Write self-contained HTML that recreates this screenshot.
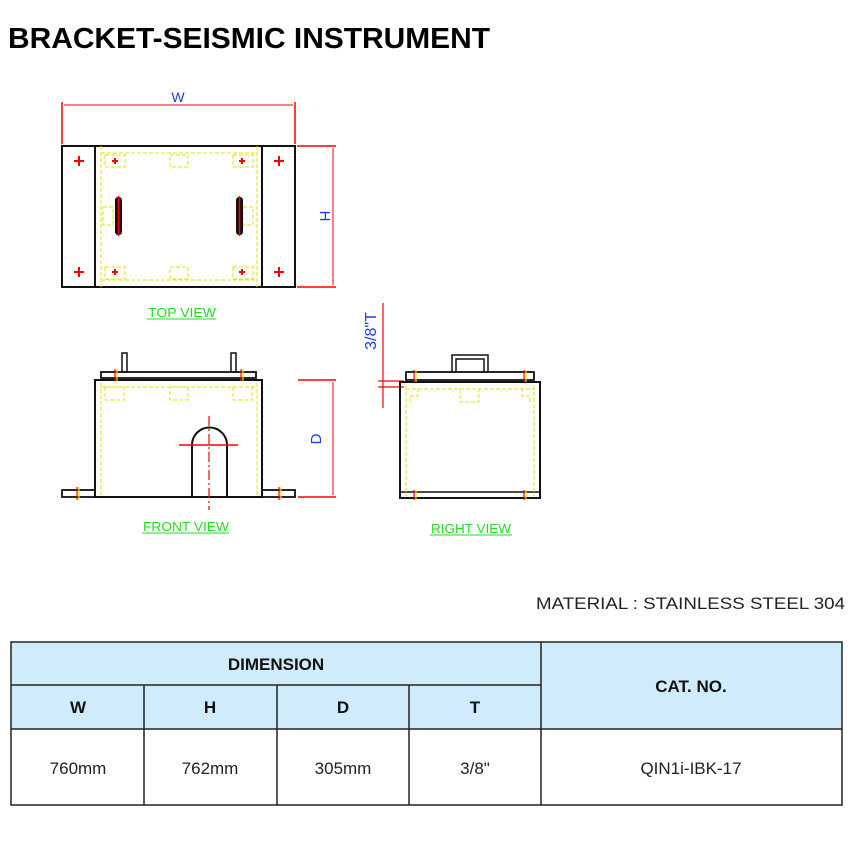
<!DOCTYPE html>
<html><head><meta charset="utf-8"><style>
html,body{margin:0;padding:0;background:#fff}
svg{display:block}
</style></head><body>
<svg width="855" height="854" viewBox="0 0 855 854" xmlns="http://www.w3.org/2000/svg" font-family="Liberation Sans, sans-serif">
<text x="8" y="48" font-size="29" font-weight="bold" textLength="482" lengthAdjust="spacingAndGlyphs">BRACKET-SEISMIC INSTRUMENT</text>

<!-- TOP VIEW -->
<g fill="none">
<line x1="62" y1="102" x2="62" y2="144" stroke="red" stroke-width="1.5"/>
<line x1="295" y1="102" x2="295" y2="144" stroke="red" stroke-width="1.5"/>
<line x1="64" y1="105" x2="293" y2="105" stroke="red" stroke-width="1"/>
<text x="178" y="102" fill="#1a3cff" font-size="14" text-anchor="middle">W</text>
<line x1="297" y1="146" x2="336" y2="146" stroke="red" stroke-width="1.5"/>
<line x1="297" y1="287" x2="336" y2="287" stroke="red" stroke-width="1.5"/>
<line x1="333" y1="148" x2="333" y2="285" stroke="red" stroke-width="1"/>
<text x="0" y="0" fill="#1a3cff" font-size="15" text-anchor="middle" transform="translate(320,216) rotate(90)">H</text>
<rect x="62" y="146" width="233" height="141" stroke="#111" stroke-width="2"/>
<line x1="95" y1="146" x2="95" y2="287" stroke="#111" stroke-width="2"/>
<line x1="262" y1="146" x2="262" y2="287" stroke="#111" stroke-width="2"/>
<g stroke="#e6e600" stroke-width="1" stroke-dasharray="4,2">
<line x1="101" y1="146" x2="101" y2="287"/><line x1="257" y1="146" x2="257" y2="287"/>
<line x1="101" y1="153" x2="257" y2="153"/><line x1="101" y1="280" x2="257" y2="280"/>
<rect x="105" y="155" width="20" height="12"/><rect x="170" y="155" width="18" height="12"/><rect x="233" y="155" width="20" height="12"/>
<rect x="105" y="267" width="20" height="12"/><rect x="170" y="267" width="18" height="12"/><rect x="233" y="267" width="20" height="12"/>
<rect x="103" y="207" width="10" height="18"/><rect x="243" y="207" width="10" height="18"/>
</g>
<rect x="115" y="197" width="7" height="38" rx="3" fill="#111"/>
<rect x="236" y="197" width="7" height="38" rx="3" fill="#111"/>
<line x1="118.5" y1="196" x2="118.5" y2="236" stroke="red" stroke-width="1.5"/>
<line x1="239.5" y1="196" x2="239.5" y2="236" stroke="red" stroke-width="1.5"/>
<g stroke="red" stroke-width="2">
<path d="M74 161h10M79 156v10M274 161h10M279 156v10M74 272h10M79 267v10M274 272h10M279 267v10"/>
<path d="M112 161h6M115 158v6M239 161h6M242 158v6M112 272h6M115 269v6M239 272h6M242 269v6"/>
</g>
<text x="182" y="317" fill="#22dd22" font-size="13" text-anchor="middle" textLength="68" lengthAdjust="spacingAndGlyphs">TOP  VIEW</text>
<line x1="147" y1="319" x2="216" y2="319" stroke="#22dd22" stroke-width="1"/>
</g>

<!-- FRONT VIEW -->
<g fill="none">
<rect x="101" y="372" width="155" height="6" stroke="#111" stroke-width="1.8"/>
<rect x="122" y="353" width="5" height="19" stroke="#111" stroke-width="1.5"/>
<rect x="231" y="353" width="5" height="19" stroke="#111" stroke-width="1.5"/>
<rect x="95" y="380" width="167" height="117" stroke="#111" stroke-width="2"/>
<rect x="62" y="490" width="33" height="7" stroke="#111" stroke-width="1.8"/>
<rect x="262" y="490" width="33" height="7" stroke="#111" stroke-width="1.8"/>
<path d="M192 497V445a17.5 17.5 0 0 1 35 0V497" stroke="#111" stroke-width="2"/>
<line x1="209" y1="416" x2="209" y2="510" stroke="red" stroke-width="1.2" stroke-dasharray="10,3,2,3"/>
<line x1="179" y1="445" x2="238" y2="445" stroke="red" stroke-width="1.5"/>
<g stroke="#e6e600" stroke-width="1" stroke-dasharray="4,2">
<line x1="101" y1="383" x2="101" y2="496"/><line x1="257" y1="383" x2="257" y2="496"/>
<line x1="101" y1="387" x2="257" y2="387"/>
<rect x="105" y="387" width="19" height="13"/><rect x="170" y="387" width="18" height="13"/><rect x="233" y="387" width="19" height="13"/>
</g>
<g stroke="red" stroke-width="1.2"><path d="M115 369v12M241 369v12M77 487v13M279 487v13"/></g>
<g stroke="#e6e600" stroke-width="1.2"><path d="M117 369v12M243 369v12M79 487v13M281 487v13"/></g>
<line x1="298" y1="380" x2="336" y2="380" stroke="red" stroke-width="1.5"/>
<line x1="298" y1="497" x2="336" y2="497" stroke="red" stroke-width="1.5"/>
<line x1="333" y1="382" x2="333" y2="495" stroke="red" stroke-width="1"/>
<text x="0" y="0" fill="#1a3cff" font-size="15" text-anchor="middle" transform="translate(321,439) rotate(-90)">D</text>
<text x="186" y="531" fill="#22dd22" font-size="13" text-anchor="middle" textLength="86" lengthAdjust="spacingAndGlyphs">FRONT  VIEW</text>
<line x1="142" y1="533" x2="229" y2="533" stroke="#22dd22" stroke-width="1"/>
</g>

<!-- RIGHT VIEW -->
<g fill="none">
<line x1="383" y1="303" x2="383" y2="408" stroke="red" stroke-width="1.2"/>
<line x1="378" y1="381" x2="404" y2="381" stroke="red" stroke-width="1.2"/>
<line x1="378" y1="387" x2="404" y2="387" stroke="red" stroke-width="1.2"/>
<text x="0" y="0" fill="#1a3cff" font-size="16" text-anchor="middle" transform="translate(376,331) rotate(-90)">3/8"T</text>
<rect x="406" y="372" width="128" height="8" stroke="#111" stroke-width="1.8"/>
<path d="M452 372V355h36V372M456 372V359h28V372" stroke="#111" stroke-width="1.5"/>
<rect x="400" y="382" width="140" height="116" stroke="#111" stroke-width="2"/>
<line x1="400" y1="492" x2="540" y2="492" stroke="#111" stroke-width="1.5"/>
<g stroke="#e6e600" stroke-width="1" stroke-dasharray="4,2">
<line x1="406" y1="386" x2="406" y2="496"/><line x1="534" y1="386" x2="534" y2="496"/>
<line x1="406" y1="389" x2="534" y2="389"/>
<rect x="460" y="389" width="19" height="13"/>
<path d="M410 402v-6h8v-7M530 402v-6h-8v-7"/>
</g>
<g stroke="red" stroke-width="1.2"><path d="M414 370v12M524 370v12M414 490v10M524 490v10"/></g>
<g stroke="#e6e600" stroke-width="1.2"><path d="M416 370v12M526 370v12M416 490v10M526 490v10"/></g>
<text x="471" y="533" fill="#22dd22" font-size="13" text-anchor="middle" textLength="80" lengthAdjust="spacingAndGlyphs">RIGHT  VIEW</text>
<line x1="430" y1="535" x2="512" y2="535" stroke="#22dd22" stroke-width="1"/>
</g>

<text x="845" y="609" font-size="17" text-anchor="end" fill="#222" textLength="309" lengthAdjust="spacingAndGlyphs">MATERIAL : STAINLESS STEEL 304</text>

<!-- TABLE -->
<rect x="11" y="642" width="831" height="87" fill="#d0ebfb"/>
<g stroke="#222" stroke-width="1.5" fill="none">
<rect x="11" y="642" width="831" height="163"/>
<line x1="11" y1="685" x2="541" y2="685"/>
<line x1="11" y1="729" x2="842" y2="729"/>
<line x1="541" y1="642" x2="541" y2="805"/>
<line x1="144" y1="685" x2="144" y2="805"/>
<line x1="277" y1="685" x2="277" y2="805"/>
<line x1="409" y1="685" x2="409" y2="805"/>
</g>
<g font-size="17" font-weight="bold" text-anchor="middle" fill="#111">
<text x="276" y="670">DIMENSION</text>
<text x="691" y="692">CAT. NO.</text>
<text x="78" y="713">W</text>
<text x="210" y="713">H</text>
<text x="343" y="713">D</text>
<text x="475" y="713">T</text>
</g>
<g font-size="17" text-anchor="middle" fill="#222">
<text x="78" y="774">760mm</text>
<text x="210" y="774">762mm</text>
<text x="343" y="774">305mm</text>
<text x="475" y="774">3/8"</text>
<text x="691" y="774">QIN1i-IBK-17</text>
</g>
</svg>
</body></html>
